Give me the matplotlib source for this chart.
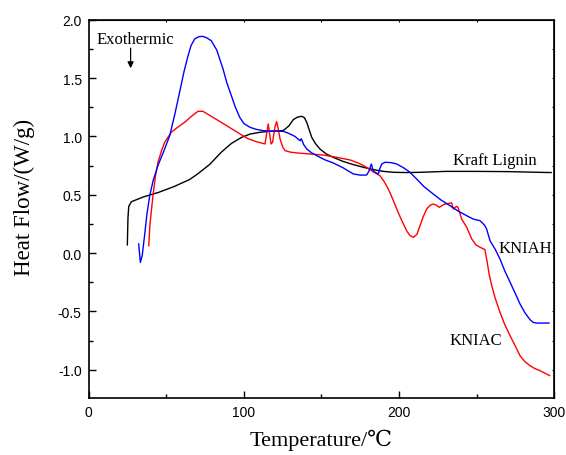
import matplotlib

matplotlib.use("Agg")

import matplotlib.pyplot as plt
from matplotlib.ticker import FormatStrFormatter, MultipleLocator

# Kraft lignin (black)
kl_t = [24.9, 25.3, 25.8, 27.5, 35, 45, 55, 65, 70.4, 78, 85.4, 92, 98.3, 104, 110.4, 118,
        125.4, 129, 131.8, 134.5, 137.2, 139, 140.5, 142, 143.7, 146, 149, 153, 157.6, 164,
        170.5, 177, 183.4, 190, 196.3, 205, 213.5, 230, 250, 270, 290, 298]
kl_v = [0.07, 0.30, 0.40, 0.44, 0.48, 0.52, 0.57, 0.63, 0.68, 0.76, 0.864, 0.94, 0.99, 1.02,
        1.035, 1.045, 1.05, 1.09, 1.143, 1.165, 1.172, 1.16, 1.12, 1.06, 0.992, 0.94, 0.892,
        0.85, 0.82, 0.785, 0.758, 0.735, 0.715, 0.70, 0.692, 0.69, 0.692, 0.70, 0.70, 0.698,
        0.692, 0.69]

# KNIAC (red)
kc_t = [38.7, 39.5, 41.4, 43, 44.7, 47, 49, 53.2, 57, 61.8, 66, 70.4, 73.6, 78, 85.4, 94,
        102.6, 108, 113.6, 114.6, 115.7, 116.6, 117.5, 118.5, 120, 121.1, 122.2, 123.3, 125,
        126.5, 130, 134, 142, 151.2, 160, 168.4, 174, 179, 183, 187.7, 190.5, 193, 196, 198.5,
        201, 204.9, 207, 209.2, 211.5, 213.5, 215.5, 217.8, 220, 222, 224, 225.9, 228, 229.5,
        233.9, 234.9, 236, 237.1, 238, 240.3, 243.6, 246.8, 249.5, 252.1, 255.3, 256.8, 258,
        259.7, 262, 265, 268, 271.5, 275, 277.9, 281, 284.3, 287.5, 290.8, 294, 297]
kc_v = [0.063, 0.25, 0.49, 0.66, 0.78, 0.88, 0.95, 1.035, 1.075, 1.12, 1.17, 1.215, 1.215,
        1.18, 1.12, 1.05, 0.98, 0.955, 0.935, 1.02, 1.106, 1.02, 0.935, 0.95, 1.08, 1.126,
        1.06, 0.978, 0.91, 0.878, 0.865, 0.858, 0.85, 0.84, 0.82, 0.798, 0.77, 0.735, 0.70,
        0.663, 0.61, 0.55, 0.46, 0.378, 0.30, 0.19, 0.15, 0.135, 0.16, 0.235, 0.31, 0.378,
        0.41, 0.42, 0.41, 0.392, 0.41, 0.42, 0.43, 0.378, 0.39, 0.40, 0.39, 0.292, 0.221,
        0.121, 0.07, 0.05, 0.03, -0.08, -0.18, -0.28, -0.39, -0.507, -0.61, -0.708, -0.80,
        -0.879, -0.93, -0.965, -0.99, -1.008, -1.03, -1.05]

# KNIAH (blue)
kh_t = [32.2, 33.3, 34.5, 36, 37.5, 39.3, 41.5, 44.6, 48, 52.2, 55.5, 58.6, 61.5, 64, 66,
        68.3, 71, 73.6, 76, 79, 82.5, 86.5, 89, 91.9, 94.5, 97.3, 100, 103.9, 108, 112.5, 119,
        125.4, 129, 132.9, 135.5, 136.2, 137, 138.5, 140.5, 143.5, 146.9, 152, 157.6, 164,
        170.5, 175, 179.1, 180.5, 182.1, 183.5, 186.6, 187.5, 188.8, 190.9, 195, 198.5, 203,
        207, 211.3, 216, 222, 227, 232.8, 238, 243.6, 248, 252.1, 255, 256.4, 258.6, 262, 265,
        268, 271.5, 275, 277.9, 281, 284.3, 286.5, 288.7, 296.6]
kh_v = [0.078, -0.08, -0.02, 0.15, 0.33, 0.49, 0.62, 0.75, 0.86, 1.006, 1.19, 1.38, 1.56,
        1.69, 1.78, 1.835, 1.855, 1.857, 1.845, 1.82, 1.74, 1.58, 1.46, 1.35, 1.25, 1.164,
        1.11, 1.078, 1.06, 1.049, 1.045, 1.043, 1.025, 1.0, 0.97, 0.963, 0.98, 0.93, 0.892,
        0.86, 0.835, 0.80, 0.772, 0.73, 0.678, 0.668, 0.669, 0.70, 0.763, 0.70, 0.678, 0.72,
        0.763, 0.778, 0.775, 0.763, 0.73, 0.692, 0.635, 0.57, 0.506, 0.455, 0.406, 0.36, 0.32,
        0.29, 0.278, 0.24, 0.206, 0.106, 0.03, -0.05, -0.15, -0.25, -0.35, -0.436, -0.51,
        -0.57, -0.595, -0.6, -0.6]

SERIF = ["Liberation Serif", "DejaVu Serif", "Noto Sans CJK SC"]
SANS = ["Liberation Sans", "DejaVu Sans"]

fig = plt.figure(figsize=(5.66, 4.56), dpi=100, facecolor="white")
ax = fig.add_axes([0.1567, 0.1243, 0.8226, 0.8303])

ax.plot(kl_t, kl_v, color="black", lw=1.0)
ax.plot(kc_t, kc_v, color="#ff0000", lw=1.0)
ax.plot(kh_t, kh_v, color="#0000ff", lw=1.0)

ax.set_xlim(0, 300)
ax.set_ylim(-1.245, 2.0)
ax.xaxis.set_major_locator(MultipleLocator(100))
ax.xaxis.set_minor_locator(MultipleLocator(50))
ax.yaxis.set_major_locator(MultipleLocator(0.5))
ax.yaxis.set_minor_locator(MultipleLocator(0.25))
ax.yaxis.set_major_formatter(FormatStrFormatter("%.1f"))
ax.tick_params(which="major", direction="in", length=5, width=1.0, labelsize=10, pad=5)
ax.tick_params(which="minor", direction="in", length=3, width=1.0)
for lab in ax.get_xticklabels() + ax.get_yticklabels():
    lab.set_family(SANS)
for sp in ax.spines.values():
    sp.set_linewidth(1.2)

# small ticks on top and right
top = ax.secondary_xaxis("top")
top.xaxis.set_major_locator(MultipleLocator(50))
top.tick_params(direction="in", length=1.5, labeltop=False)
right = ax.secondary_yaxis("right")
right.yaxis.set_major_locator(MultipleLocator(0.25))
right.tick_params(direction="in", length=1.5, labelright=False)

ax.set_xlabel("Temperature/℃", fontsize=16, family=SERIF, labelpad=7)
ax.set_ylabel("Heat Flow/(W/g)", fontsize=16.5, family=SERIF)
ax.yaxis.set_label_coords(-0.115, 0.532)

ax.text(5, 1.834, "Exothermic", fontsize=12, family=SERIF, va="center", ha="left")
ax.annotate("", xy=(27, 1.56), xytext=(27, 1.78),
            arrowprops=dict(arrowstyle="-|>", color="black", lw=0.9, mutation_scale=9))
ax.text(262, 0.80, "Kraft Lignin", fontsize=12, family=SERIF, ha="center", va="center")
ax.text(281.5, 0.044, "KNIAH", fontsize=12, family=SERIF, ha="center", va="center")
ax.text(249.6, -0.745, "KNIAC", fontsize=12, family=SERIF, ha="center", va="center")

fig.savefig("out.png", dpi=100, facecolor="white")
